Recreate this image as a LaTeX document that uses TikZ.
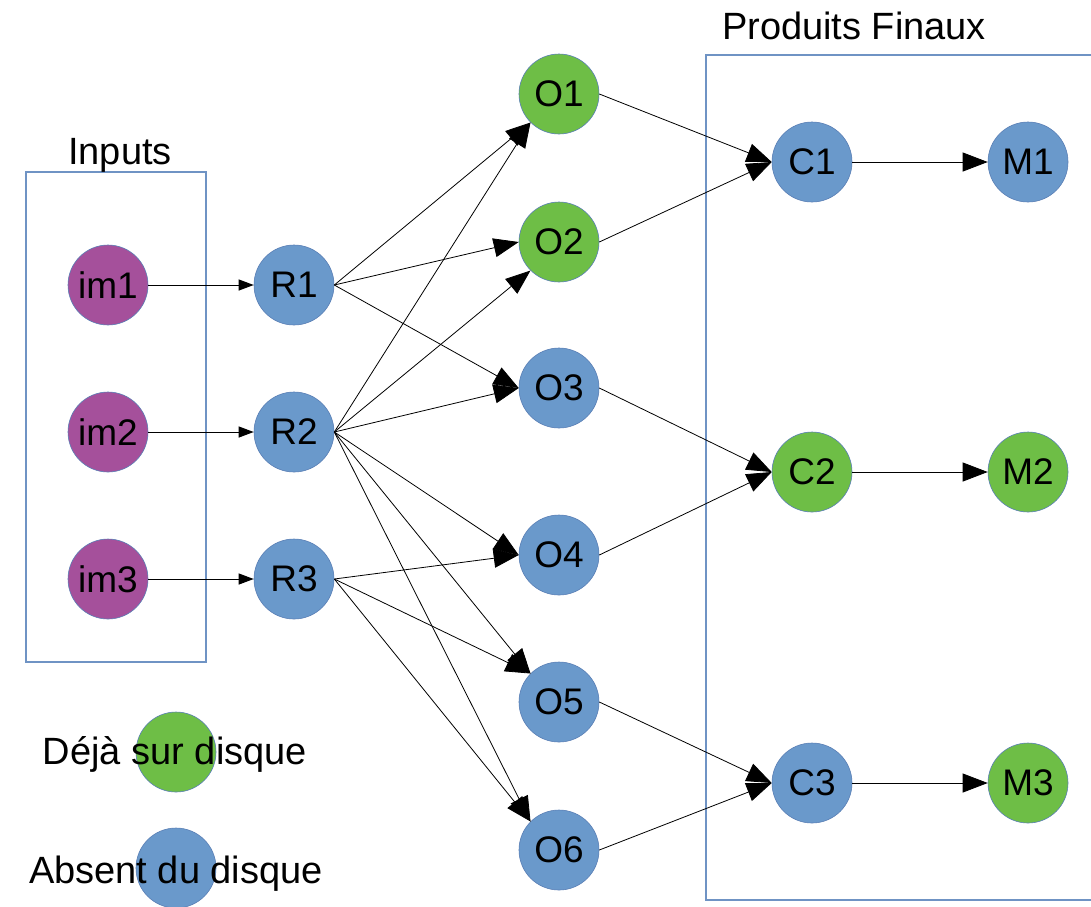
\documentclass[tikz,border=0pt]{standalone}
\usepackage{fontspec}
\setmainfont{Liberation Sans}
\usetikzlibrary{arrows.meta}
\definecolor{diskgreen}{HTML}{6EBE46}
\definecolor{diskblue}{HTML}{6A99CB}
\definecolor{inputpurple}{HTML}{A5509B}
\definecolor{framecolor}{HTML}{6F93C4}
\definecolor{rimcolor}{HTML}{5A7FB5}
\begin{document}
\begin{tikzpicture}
[x=1pt,y=-1pt,
 nodedecorate/.style={shape=circle,inner sep=0pt,minimum size=80pt,draw=rimcolor,line width=0.6pt,font=\fontsize{37}{42}\selectfont},
 linedecorate/.style={-{Triangle[length=25pt,width=19pt]},line width=0.8pt},
 smalldecorate/.style={-{Triangle[length=15pt,width=11pt]},line width=1pt},
 framedecorate/.style={draw=framecolor,line width=1.2pt},
 labeldecorate/.style={anchor=base,font=\fontsize{38}{44}\selectfont}]
\useasboundingbox (0,0) rectangle (1091,906);
%% frames
\draw[framedecorate] (26,172) rectangle (206,662);
\draw[framedecorate] (706,55) rectangle (1110,900);
\node (inputs) at (120,164) [labeldecorate] {Inputs};
\node (produits) at (854,39) [labeldecorate] {Produits Finaux};
%% nodes or vertices
\foreach \nodename/\x/\y/\col in {im1/108/285/inputpurple, im2/108/432/inputpurple, im3/108/579/inputpurple,
  R1/294/285/diskblue, R2/294/432/diskblue, R3/294/579/diskblue,
  O1/559/94/diskgreen, O2/559/242/diskgreen, O3/559/388/diskblue,
  O4/559/555/diskblue, O5/559/702/diskblue, O6/559/850/diskblue,
  C1/812/162/diskblue, C2/812/472/diskgreen, C3/812/783/diskblue,
  M1/1028/162/diskblue, M2/1028/472/diskgreen, M3/1028/783/diskgreen} {
  \node (\nodename) at (\x,\y) [nodedecorate,fill=\col] {\nodename};
}
%% legend
\node (legendgreen) at (176,752) [nodedecorate,fill=diskgreen] {};
\node (legendblue) at (176,868) [nodedecorate,fill=diskblue] {};
\node (legendgreentext) at (175,764) [labeldecorate] {Déjà sur disque};
\node (legendbluetext) at (176,883) [labeldecorate] {Absent du disque};
%% edges or lines
\path
\foreach \startnode/\endnode in {im1/R1, im2/R2, im3/R3} {
  (\startnode) edge[smalldecorate] (\endnode)
};
\path
\foreach \startnode/\endnode in {R1.east/O1.south west, R1.east/O2.west, R1.east/O3.west,
  R2.east/O1.south west, R2.east/O2.south west, R2.east/O3.west, R2.east/O4.west,
  R2.east/O5.north west, R2.east/O6.north west,
  R3.east/O4.west, R3.east/O5.north west, R3.east/O6.north west,
  O1.east/C1.west, O2.east/C1.west, O3.east/C2.west, O4.east/C2.west,
  O5.east/C3.west, O6.east/C3.west, C1/M1, C2/M2, C3/M3} {
  (\startnode) edge[linedecorate] (\endnode)
};
\end{tikzpicture}
\end{document}
